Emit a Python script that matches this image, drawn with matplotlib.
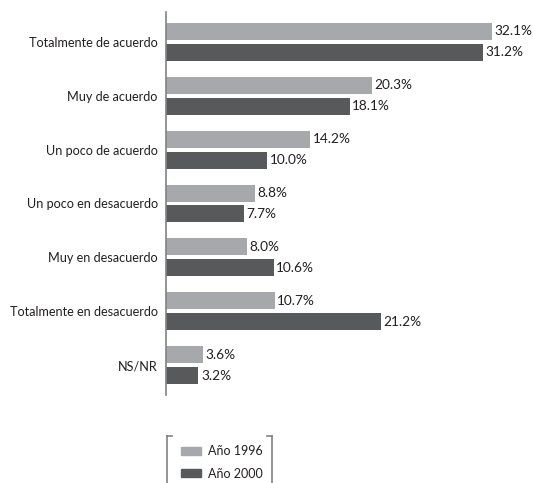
import numpy as np
import matplotlib
matplotlib.use("Agg")
import matplotlib.pyplot as plt
from matplotlib.lines import Line2D
from matplotlib.patches import Patch

plt.rcParams['font.family'] = ['Lato', 'DejaVu Sans']

categories = ["Totalmente de acuerdo", "Muy de acuerdo", "Un poco de acuerdo",
              "Un poco en desacuerdo", "Muy en desacuerdo",
              "Totalmente en desacuerdo", "NS/NR"]
values_1996 = [32.1, 20.3, 14.2, 8.8, 8.0, 10.7, 3.6]
values_2000 = [31.2, 18.1, 10.0, 7.7, 10.6, 21.2, 3.2]
series_names = ["Año 1996", "Año 2000"]

c_light = "#a7a8ab"
c_dark = "#58595b"
txt = "#231f20"

W, H = 533, 483
fig = plt.figure(figsize=(W / 100, H / 100), dpi=100)
ax = fig.add_axes([166 / W, 1 - 395 / H, 1 - 166 / W, 383 / H])

y = np.arange(len(categories))
h = 0.315
off = 0.194
ax.barh(y - off, values_1996, height=h, color=c_light)
ax.barh(y + off, values_2000, height=h, color=c_dark)

for yi, v in zip(y, values_1996):
    ax.text(v + 0.25, yi - off, f"{v:.1f}%", va="center", ha="left", fontsize=9.8, color=txt)
for yi, v in zip(y, values_2000):
    ax.text(v + 0.25, yi + off, f"{v:.1f}%", va="center", ha="left", fontsize=9.8, color=txt)

ax.set_xlim(0, 36.16)
ax.set_ylim(6.55, -0.55)
ax.set_yticks(y)
ax.set_yticklabels(categories, fontsize=9.1, color=txt)
ax.tick_params(axis="y", length=0, pad=6)
ax.set_xticks([])
for s in ["top", "right", "bottom"]:
    ax.spines[s].set_visible(False)
ax.spines["left"].set_color("#808285")
ax.spines["left"].set_linewidth(1.2)

# legend with bracket frame
handles = [Patch(color=c_light), Patch(color=c_dark)]
fig.legend(handles, series_names, loc="upper left",
           bbox_to_anchor=(181 / W, 1 - 445 / H), frameon=False,
           borderpad=0, borderaxespad=0,
           fontsize=9, handlelength=1.6, handleheight=0.6,
           labelspacing=0.84, handletextpad=0.55, labelcolor=txt)

def fx(px):
    return px / W

def fy(py):
    return 1 - py / H

bc = "#808285"
fig.add_artist(Line2D([fx(167), fx(167)], [fy(436), fy(483)], color=bc, lw=1.2))
fig.add_artist(Line2D([fx(167), fx(172)], [fy(436), fy(436)], color=bc, lw=1.2))
fig.add_artist(Line2D([fx(272), fx(272)], [fy(436), fy(483)], color=bc, lw=1.2))
fig.add_artist(Line2D([fx(267), fx(272)], [fy(436), fy(436)], color=bc, lw=1.2))

fig.savefig("out.png", dpi=100)
